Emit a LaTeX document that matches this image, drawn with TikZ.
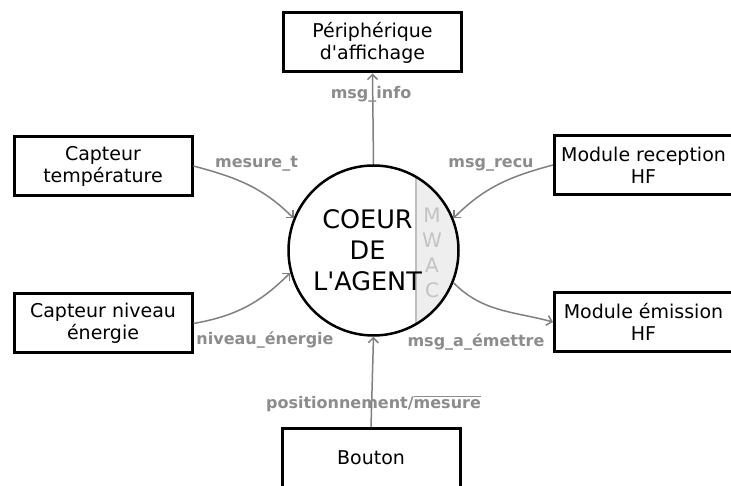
\documentclass[tikz,border=0pt]{standalone}
\usepackage{fontspec}
\setmainfont{DejaVu Sans}
\usepackage{xcolor}
\usepackage{tikz}
\usetikzlibrary{arrows.meta}

\definecolor{fleche}{RGB}{128,128,128}
\definecolor{etiq}{RGB}{140,140,140}
\definecolor{mwacfond}{RGB}{238,238,238}
\definecolor{mwactrait}{RGB}{190,190,190}
\definecolor{mwactexte}{RGB}{195,195,195}

% barre au-dessus d'un mot
\newcommand{\surligne}[1]{\setbox0=\hbox{#1}\rlap{\rule[11.5pt]{\wd0}{1.3pt}}\box0}

\begin{document}
\begin{tikzpicture}[
    x=1pt, y=1pt,
    boite/.style={rectangle, draw=black, line width=3pt, fill=white,
                  minimum width=178pt, minimum height=59pt, inner sep=0pt,
                  font=\fontsize{19}{22}\selectfont, align=center},
    coeurstyle/.style={circle, draw=black, line width=2.5pt, minimum size=170pt,
                  inner sep=0pt},
    coeurtexte/.style={inner sep=0pt, font=\fontsize{25.5}{31}\selectfont, align=center},
    mwacstyle/.style={text=mwactexte, inner sep=0pt,
                  font=\fontsize{20}{25}\selectfont, align=center},
    lbl/.style={text=etiq, inner sep=0pt, anchor=base,
                font=\fontsize{16}{19}\selectfont\bfseries},
    fl/.style={draw=fleche, line width=1.5pt,
               -{Straight Barb[length=5pt, width=10pt]}}
]
    \useasboundingbox (0,0) rectangle (731,486);

    % partie MWAC
    \begin{scope}
        \clip (373.5,235.5) circle (85pt);
        \fill[mwacfond] (416,140) rectangle (465,330);
        \draw[mwactrait, line width=2pt] (416,140) -- (416,330);
    \end{scope}

    \node[coeurstyle] (coeur) at (373.5,235.5) {};
    \node[coeurtexte] (agent) at (367.5,236) {COEUR\\DE\\L\textquotesingle AGENT};
    \node[mwacstyle] (mwac) at (432,233) {M\\W\\A\\C};

    \node[boite] (periph) at (372.5,443.5) {Périphérique\\d\textquotesingle affichage};
    \node[boite] (capt)   at (103,320)     {Capteur\\température};
    \node[boite] (capn)   at (103,162.5)   {Capteur niveau\\énergie};
    \node[boite] (modr)   at (643.5,321)   {Module reception\\HF};
    \node[boite] (mode)   at (643.5,164)   {Module émission\\HF};
    \node[boite] (bouton) at (371,28)      {Bouton};

    \draw[fl] (coeur.north) -- (periph.south);
    \draw[fl] (bouton.north) -- (coeur.south);
    \draw[fl] (capt.east) to[out=-15, in=135] (coeur.158);
    \draw[fl] (capn.east) to[out=10, in=-135] (coeur.195);
    \draw[fl] (modr.west) to[out=195, in=45] (coeur.22);
    \draw[fl] (coeur.-22) to[out=-45, in=165] (mode.west);

    \node[lbl] (lmesure)   at (256.5,318) {mesure\_t};
    \node[lbl] (lrecu)     at (491,318)   {msg\_recu};
    \node[lbl] (linfo)     at (371,387)   {msg\_info};
    \node[lbl] (lniveau)   at (265,141)   {niveau\_énergie};
    \node[lbl] (lemettre)  at (476,139)   {msg\_a\_émettre};
    \node[lbl] (lposition) at (373.5,77)  {positionnement/\surligne{mesure}};
\end{tikzpicture}
\end{document}
